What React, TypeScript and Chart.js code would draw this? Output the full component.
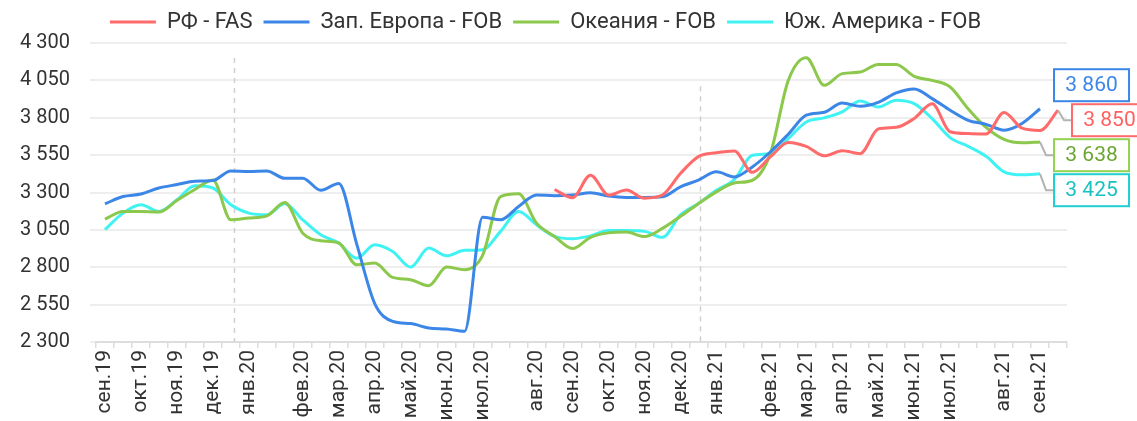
import React, { useEffect, useRef } from 'react';
import { Chart, registerables } from 'chart.js';

Chart.register(...registerables);

const categories = [
  'сен.19', '', 'окт.19', '', 'ноя.19', '', 'дек.19', '', 'янв.20', '', '',
  'фев.20', '', 'мар.20', '', 'апр.20', '', 'май.20', '', 'июн.20', '', 'июл.20', '', '',
  'авг.20', '', 'сен.20', '', 'окт.20', '', 'ноя.20', '', 'дек.20', '', 'янв.21', '', '',
  'фев.21', '', 'мар.21', '', 'апр.21', '', 'май.21', '', 'июн.21', '', 'июл.21', '', '',
  'авг.21', '', 'сен.21', '',
];

const rfFas = [
  null, null, null, null, null, null, null, null, null, null,
  null, null, null, null, null, null, null, null, null, null,
  null, null, null, null, null,
  3320, 3265, 3416, 3283, 3316, 3262, 3283, 3427, 3540, 3566,
  3578, 3435, 3538, 3635, 3608, 3545, 3580, 3560, 3725, 3736,
  3795, 3893, 3706, 3694, 3692, 3835, 3730, 3715, 3850,
];

const westEurope = [
  3224, 3273, 3290, 3330, 3353, 3376, 3380, 3444, 3440, 3444,
  3395, 3396, 3315, 3360, 2955, 2557, 2438, 2423, 2394, 2387,
  2372, 3135, 3117, 3207, 3284, 3278, 3283, 3298, 3276, 3267,
  3267, 3271, 3338, 3383, 3438, 3404, 3471, 3571, 3690, 3817,
  3837, 3899, 3877, 3903, 3966, 3993, 3928, 3850, 3783, 3756,
  3717, 3762, 3860, null,
];

const oceania = [
  3122, 3173, 3173, 3169, 3247, 3320, 3384, 3117, 3129, 3144,
  3233, 3028, 2977, 2962, 2817, 2828, 2732, 2717, 2677, 2801,
  2784, 2880, 3273, 3291, 3095, 3006, 2925, 3000, 3030, 3035,
  3005, 3060, 3140, 3225, 3304, 3364, 3382, 3560, 4050, 4202,
  4017, 4095, 4106, 4157, 4157, 4077, 4050, 4006, 3861, 3735,
  3655, 3632, 3638, null,
];

const southAmerica = [
  3051, 3162, 3218, 3173, 3251, 3345, 3330, 3218, 3162, 3151,
  3224, 3117, 3017, 2962, 2861, 2951, 2906, 2801, 2928, 2877,
  2913, 2917, 3040, 3173, 3084, 3006, 2990, 3010, 3045, 3045,
  3040, 3000, 3150, 3226, 3315, 3387, 3549, 3560, 3661, 3772,
  3799, 3839, 3912, 3872, 3917, 3894, 3794, 3667, 3609, 3542,
  3438, 3418, 3425, null,
];

const seriesNames = ['РФ - FAS', 'Зап. Европа - FOB', 'Океания - FOB', 'Юж. Америка - FOB'];
const lineColors = ['#ff6b6b', '#3b86e6', '#8cc84b', '#40f2f2'];
const boxBorderColors = ['#ff6b6b', '#3b86e6', '#93d152', '#1fd0d0'];
const boxTextColors = ['#ff6060', '#3b86e6', '#6aa632', '#19c2c2'];

const yMin = 2300;
const yMax = 4300;
const yStep = 250;
const yearMarkers = [7.2, 33.1];
const yearMarkerTops = [4200, 4010];

const fmt = (v: number) => String(Math.round(v)).replace(/\B(?=(\d{3})+(?!\d))/g, ' ');

const FONT = 'Roboto';

const legendHeightPlugin = {
  id: 'legendHeight',
  beforeLayout(chart: any) {
    const lg = chart.legend;
    if (lg && !lg._patched) {
      const orig = lg.fit;
      lg.fit = function () {
        orig.call(this);
        this.height = 43;
      };
      lg._patched = true;
    }
  },
  afterLayout(chart: any) {
    const lg = chart.legend;
    if (lg) lg.left += 24;
  },
};

const yearLinesPlugin = {
  id: 'yearLines',
  beforeDatasetsDraw(chart: any) {
    const { ctx, chartArea, scales } = chart;
    ctx.save();
    ctx.strokeStyle = '#cfcfcf';
    ctx.lineWidth = 1.5;
    ctx.setLineDash([5, 5]);
    yearMarkers.forEach((m, i) => {
      const x = scales.x.getPixelForValue(m);
      const yTop = scales.y.getPixelForValue(yearMarkerTops[i]);
      ctx.beginPath();
      ctx.moveTo(Math.round(x) + 0.5, yTop);
      ctx.lineTo(Math.round(x) + 0.5, chartArea.bottom);
      ctx.stroke();
    });
    ctx.restore();
  },
};

const endLabelsPlugin = {
  id: 'endLabels',
  afterDraw(chart: any) {
    const ctx = chart.ctx;
    const items: any[] = [];
    chart.data.datasets.forEach((ds: any, di: number) => {
      const meta = chart.getDatasetMeta(di);
      let last = -1;
      for (let i = ds.data.length - 1; i >= 0; i--) {
        if (ds.data[i] != null) { last = i; break; }
      }
      if (last < 0) return;
      const pt = meta.data[last];
      items.push({ di, x: pt.x, y: pt.y, value: ds.data[last], cy: pt.y });
    });
    items.sort((a, b) => a.y - b.y);
    const gap = 35;
    for (let k = 0; k < 200; k++) {
      for (let i = 1; i < items.length; i++) {
        const d = items[i].cy - items[i - 1].cy;
        if (d < gap) {
          const o = (gap - d) / 2;
          items[i - 1].cy -= o;
          items[i].cy += o;
        }
      }
    }
    items.forEach((it) => { it.cy += 4; });
    const w = 75;
    const h = 32;
    ctx.save();
    items.forEach((it) => {
      const left = it.x + 14;
      if (it.cy > it.y + 2) {
        ctx.strokeStyle = '#b3b3b3';
        ctx.lineWidth = 2;
        ctx.beginPath();
        ctx.moveTo(it.x, it.y);
        ctx.lineTo(it.x + 6, it.cy);
        ctx.lineTo(left, it.cy);
        ctx.stroke();
      }
      ctx.fillStyle = '#ffffff';
      ctx.fillRect(left, it.cy - h / 2, w, h);
      ctx.strokeStyle = boxBorderColors[it.di];
      ctx.lineWidth = 2;
      ctx.strokeRect(left, it.cy - h / 2, w, h);
      ctx.fillStyle = boxTextColors[it.di];
      ctx.font = `21px ${FONT}`;
      ctx.textAlign = 'center';
      ctx.textBaseline = 'middle';
      ctx.fillText(fmt(it.value), left + w / 2, it.cy + 1);
    });
    ctx.restore();
  },
};

export default function App() {
  const ref = useRef<HTMLCanvasElement>(null);

  useEffect(() => {
    const seriesData = [rfFas, westEurope, oceania, southAmerica];
    const chart = new Chart(ref.current as HTMLCanvasElement, {
      type: 'line',
      data: {
        labels: categories,
        datasets: seriesData.map((d, i) => ({
          label: seriesNames[i],
          data: d,
          borderColor: lineColors[i],
          backgroundColor: lineColors[i],
          borderWidth: 3,
          pointRadius: 0,
          pointHoverRadius: 0,
          cubicInterpolationMode: 'monotone',
          fill: false,
        })),
      },
      options: {
        responsive: false,
        animation: false,
        layout: { padding: { left: 0, right: 70, top: 0, bottom: 0 } },
        plugins: {
          tooltip: { enabled: false },
          legend: {
            position: 'top',
            labels: {
              usePointStyle: true,
              pointStyle: 'line',
              pointStyleWidth: 46,
              padding: 11,
              color: '#333333',
              font: { family: FONT, size: 22 },
            },
          },
        },
        scales: {
          x: {
            offset: true,
            grid: {
              display: true,
              offset: true,
              drawOnChartArea: false,
              drawTicks: true,
              tickLength: 6,
              color: '#dddddd',
              lineWidth: 1.5,
            },
            border: { display: true, color: '#dddddd', width: 2 },
            ticks: {
              autoSkip: false,
              minRotation: 90,
              maxRotation: 90,
              padding: 2,
              color: '#333333',
              font: { family: FONT, size: 21 },
            },
            afterFit(scale: any) { scale.height = 79; },
          },
          y: {
            min: yMin,
            max: yMax,
            grid: {
              color: '#eeeeee',
              lineWidth: 2,
              drawTicks: true,
              tickLength: 6,
            },
            border: { display: false },
            ticks: {
              stepSize: yStep,
              padding: 20,
              color: '#333333',
              font: { family: FONT, size: 20 },
              callback: (v: any) => fmt(Number(v)),
            },
            afterFit(scale: any) { scale.width = 96; },
          },
        },
      },
      plugins: [legendHeightPlugin, yearLinesPlugin, endLabelsPlugin],
    } as any);
    return () => chart.destroy();
  }, []);

  return (
    <div style={{ position: 'fixed', left: 0, top: 0, width: 1137, height: 421, background: '#ffffff' }}>
      <canvas ref={ref} width={1137} height={421} style={{ display: 'block' }} />
    </div>
  );
}
